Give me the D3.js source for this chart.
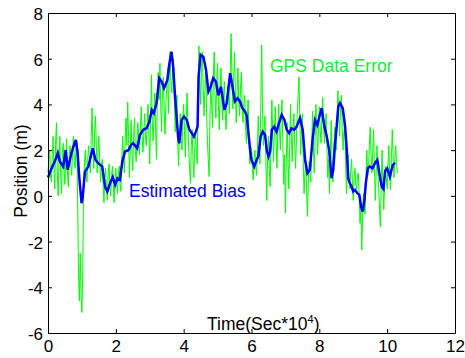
<!DOCTYPE html>
<html><head><meta charset="utf-8">
<script src="https://cdn.jsdelivr.net/npm/d3@7"></script>
<style>body{margin:0;background:#fff}svg{display:block}</style>
</head><body><svg id="c" width="465" height="358"></svg>
<script>
const xTicks = [0, 2, 4, 6, 8, 10, 12];
const yTicks = [-6, -4, -2, 0, 2, 4, 6, 8];
const gpsStart = 0, gpsStep = 0.025; // sample time (Sec*10^4)
const gpsError = [
  1.0, 1.6, 2.0, 0.9, 0.6, 1.8, 2.6, 1.2, 0.3, 2.4, 3.2, 1.0, 0.0, 1.5, 2.6, 0.8, 0.1, 1.9, 2.3, 1.1,
  0.5, 1.9, 2.5, 1.0, 0.4, 1.7, 2.2, 1.3, 0.9, 2.0, 2.6, 1.5, 1.2, 2.1, 2.4, -0.3, -3.4, -4.6, -2.5, -4.4,
  -5.1, -3.3, 0.5, 1.4, 2.0, 1.1, 0.6, 1.7, 2.2, 1.5, 1.0, 2.6, 3.85, 2.0, 1.2, 2.8, 3.5, 2.2, 1.0, 1.9,
  2.6, 1.4, 0.6, 1.3, 1.6, 0.5, -0.3, 0.8, 1.2, 0.3, -0.2, 1.0, 1.4, 0.4, 0.0, 0.9, 1.3, 0.5, -0.3, 0.7,
  1.2, 0.6, 0.1, 1.0, 1.3, 0.5, 0.2, 1.6, 2.6, 1.8, 1.0, 2.5, 3.4, 2.2, 4.1, 2.6, 0.8, 2.0, 3.3, 1.8,
  1.1, 2.6, 3.4, 2.0, 1.5, 2.5, 3.2, 2.4, 1.8, 3.0, 3.9, 2.6, 1.9, 2.8, 3.6, 2.5, 2.2, 3.2, 4.0, 2.6,
  1.4, 3.4, 5.3, 3.2, 2.4, 3.6, 4.5, 2.8, 1.6, 4.4, 5.4, 4.2, 5.8, 3.9, 2.8, 4.6, 5.2, 3.8, 2.7, 4.0,
  4.7, 5.6, 3.6, 5.2, 6.3, 5.0, 4.5, 5.5, 6.0, 4.2, 2.8, 3.6, 4.4, 2.4, 1.3, 2.8, 3.6, 2.6, 2.0, 3.4,
  4.0, 2.8, 1.7, 3.2, 4.5, 3.1, 2.0, 1.2, 0.55, 2.2, 2.9, 1.6, 0.8, 2.1, 2.7, 1.9, 1.4, 4.2, 6.56, 5.2,
  4.0, 5.4, 6.3, 4.8, 3.5, 4.6, 5.5, 3.8, 2.4, 1.6, 0.84, 3.4, 5.0, 4.0, 3.0, 5.2, 6.3, 4.4, 3.4, 5.1,
  5.8, 4.0, 2.9, 4.6, 5.6, 4.2, 3.3, 4.4, 5.0, 3.6, 2.9, 4.0, 4.8, 4.2, 3.6, 5.6, 7.1, 5.0, 3.8, 5.2,
  6.3, 4.6, 3.2, 4.5, 5.6, 4.2, 3.5, 4.6, 5.4, 4.0, 3.2, 4.0, 4.4, 3.0, 2.3, 3.4, 4.2, 2.6, 1.4, 2.0,
  2.1, 1.2, 0.7, 1.6, 2.0, 1.3, 0.9, 2.0, 3.5, 2.4, 1.4, 4.2, 6.6, 3.8, 2.2, 3.0, 3.5, 1.4, -0.2, 1.6,
  2.6, 1.2, 0.4, 2.4, 4.2, 2.8, 1.5, 2.9, 3.9, 2.5, 1.2, 2.8, 4.0, 3.0, 2.0, 3.4, 4.2, 2.2, 0.5, 1.8,
  -0.75, 1.4, 3.2, 1.6, 0.3, 2.2, 4.0, 2.6, 1.5, 2.9, 3.6, 2.2, 1.2, 2.5, 3.7, 4.4, 5.2, 3.4, 1.8, 3.0,
  3.6, 1.6, 0.1, 1.0, 1.6, 0.2, -0.9, 0.6, 1.5, 0.9, 0.6, 2.2, 3.7, 2.2, 1.0, 2.6, 4.0, 2.8, 1.8, 3.0,
  3.9, 2.9, 2.3, 3.5, 4.3, 3.1, 2.3, 3.0, 3.6, 2.0, 0.8, 1.6, 0.1, 1.8, 3.3, 1.6, 0.6, 1.9, 3.0, 2.4,
  2.0, 3.5, 4.6, 3.4, 2.6, 3.8, 4.4, 3.0, 2.0, 2.8, 3.3, 1.5, 0.1, 1.2, 1.8, 0.9, 0.3, 1.1, 1.6, 0.6,
  -0.2, 0.8, 1.2, 0.5, 0.3, 0.9, 1.0, 0.0, -1.2, -0.3, -2.37, -1.0, 0.1, -0.5, -0.8, 0.9, 2.0, 0.9, 1.1, 2.2,
  3.0, 1.8, 1.0, 2.0, 2.9, 1.2, -0.2, 1.0, 2.2, 1.0, 0.3, -0.6, -1.35, 0.6, 2.0, 0.4, -0.6, 0.5, 1.3, 0.8,
  0.3, 1.4, 2.2, 1.0, 0.26, 1.6, 2.9, 1.8, 0.8, 1.6, 2.2, 1.5, 1.0
];
const biasTime = [
  0.00, 0.11, 0.20, 0.29, 0.35, 0.45, 0.52, 0.58, 0.68, 0.75,
  0.82, 0.87, 0.92, 0.99, 1.02, 1.09, 1.19, 1.32, 1.40, 1.48,
  1.60, 1.68, 1.75, 1.83, 1.91, 1.98, 2.05, 2.12, 2.19, 2.27,
  2.37, 2.45, 2.51, 2.63, 2.71, 2.81, 2.91, 2.99, 3.06, 3.12,
  3.20, 3.28, 3.35, 3.42, 3.52, 3.58, 3.64, 3.69, 3.74, 3.79,
  3.84, 3.87, 3.94, 4.01, 4.09, 4.17, 4.24, 4.30, 4.36, 4.41,
  4.44, 4.50, 4.58, 4.66, 4.73, 4.80, 4.87, 4.95, 5.02, 5.10,
  5.20, 5.27, 5.37, 5.43, 5.51, 5.59, 5.66, 5.73, 5.81, 5.86,
  5.91, 5.96, 6.00, 6.08, 6.15, 6.20, 6.27, 6.33, 6.40, 6.45,
  6.50, 6.55, 6.60, 6.67, 6.74, 6.81, 6.89, 6.97, 7.04, 7.11,
  7.18, 7.26, 7.33, 7.43, 7.51, 7.58, 7.65, 7.72, 7.80, 7.87,
  7.94, 8.00, 8.07, 8.14, 8.22, 8.29, 8.36, 8.41, 8.46, 8.51,
  8.56, 8.61, 8.69, 8.76, 8.81, 8.85, 8.90, 8.95, 9.00, 9.05,
  9.12, 9.18, 9.23, 9.28, 9.33, 9.37, 9.43, 9.49, 9.57, 9.64,
  9.71, 9.77, 9.84, 9.89, 9.94, 10.00, 10.08, 10.16, 10.23
];
const biasValue = [
  0.80, 1.22, 1.50, 1.88, 1.50, 1.28, 2.00, 1.14, 1.80, 2.16,
  2.45, 1.94, 0.84, -0.32, -0.10, 1.06, 1.28, 2.08, 1.57, 1.43,
  1.28, 0.41, 0.19, 0.55, 0.82, 0.48, 0.77, 0.70, 1.50, 1.94,
  2.00, 2.23, 2.30, 2.08, 2.67, 2.89, 2.96, 3.25, 3.76, 3.62,
  4.06, 5.15, 5.00, 4.71, 5.07, 5.80, 6.31, 5.66, 4.49, 3.47,
  2.52, 2.30, 3.32, 3.47, 3.32, 2.89, 2.74, 2.59, 2.81, 3.03,
  5.22, 6.17, 6.09, 5.51, 4.56, 4.78, 5.15, 5.00, 4.40, 4.78,
  3.76, 4.06, 5.37, 4.86, 4.13, 4.27, 4.13, 3.84, 3.69, 3.50,
  2.74, 2.00, 1.57, 1.28, 1.57, 1.72, 2.59, 2.81, 2.67, 2.00,
  1.72, 1.94, 2.89, 3.03, 2.81, 3.18, 3.54, 3.32, 2.89, 2.74,
  2.96, 2.89, 3.03, 3.40, 2.89, 1.57, 0.99, 1.14, 2.45, 3.32,
  3.10, 3.47, 3.84, 3.10, 2.59, 2.00, 0.77, 1.14, 2.23, 3.03,
  3.91, 4.06, 3.84, 3.03, 2.00, 0.77, 0.55, 0.41, 0.19, 0.26,
  0.12, 0.04, -0.47, -0.69, -0.17, 0.55, 1.21, 1.28, 1.21, 1.43,
  1.57, 0.99, 0.40, 0.30, 1.10, 1.20, 0.84, 1.33, 1.45
];

const FONT = "Arial, 'Liberation Sans', Helvetica, sans-serif";
const svg = d3.select('#c');
const x = d3.scaleLinear().domain([0, 12]).range([48, 455]);
const y = d3.scaleLinear().domain([-6, 8]).range([333, 13]);

// GPS data error (green)
svg.append('path')
  .datum(gpsError)
  .attr('d', d3.line().x((d, i) => x(gpsStart + i * gpsStep)).y(d => y(d)))
  .attr('fill', 'none').attr('stroke', '#00ff00').attr('stroke-width', 1)
  .attr('stroke-linejoin', 'miter');

// Estimated bias (blue)
const bias = biasTime.map((t, i) => ({ t, v: biasValue[i] }));
svg.append('path')
  .datum(bias)
  .attr('d', d3.line().x(d => x(d.t)).y(d => y(d.v)))
  .attr('fill', 'none').attr('stroke', '#0000ff').attr('stroke-width', 2.5)
  .attr('stroke-linejoin', 'miter');

function styleAxis(g) {
  g.attr('font-family', FONT).attr('font-size', 17);
  g.select('.domain').attr('stroke', '#000').attr('stroke-width', 1);
  g.selectAll('.tick line').attr('stroke', '#000');
  g.selectAll('.tick text').attr('fill', '#000');
}
const fmt = d => String(d);
svg.append('g').attr('transform', 'translate(0,333)')
  .call(d3.axisBottom(x).tickValues(xTicks).tickSizeInner(-4).tickSizeOuter(0).tickPadding(7).tickFormat(fmt))
  .call(styleAxis);
svg.append('g').attr('transform', 'translate(0,13)')
  .call(d3.axisTop(x).tickValues(xTicks).tickSizeInner(-4).tickSizeOuter(0).tickFormat(''))
  .call(styleAxis);
svg.append('g').attr('transform', 'translate(48,0)')
  .call(d3.axisLeft(y).tickValues(yTicks).tickSizeInner(-4).tickSizeOuter(0).tickPadding(5).tickFormat(fmt))
  .call(styleAxis)
  .selectAll('.tick text').attr('dy', '0.38em');
svg.append('g').attr('transform', 'translate(455,0)')
  .call(d3.axisRight(y).tickValues(yTicks).tickSizeInner(-4).tickSizeOuter(0).tickFormat(''))
  .call(styleAxis);

// Labels
const title = svg.append('text').attr('x', 207).attr('y', 330)
  .attr('font-family', FONT).attr('font-size', 17.5).attr('fill', '#000');
title.append('tspan').text('Time(Sec*10');
title.append('tspan').attr('font-size', 11).attr('dy', -7).text('4');
title.append('tspan').attr('dy', 7).text(')');

svg.append('text')
  .attr('transform', 'translate(27,171) rotate(-90)')
  .attr('text-anchor', 'middle')
  .attr('font-family', FONT).attr('font-size', 17.5).attr('fill', '#000')
  .text('Position (m)');

svg.append('text').attr('x', 270).attr('y', 72)
  .attr('font-family', FONT).attr('font-size', 17.5).attr('fill', '#10ee30')
  .text('GPS Data Error');

svg.append('text').attr('x', 129).attr('y', 197)
  .attr('font-family', FONT).attr('font-size', 17.5).attr('fill', '#0000ee')
  .text('Estimated Bias');
</script>
</body></html>
